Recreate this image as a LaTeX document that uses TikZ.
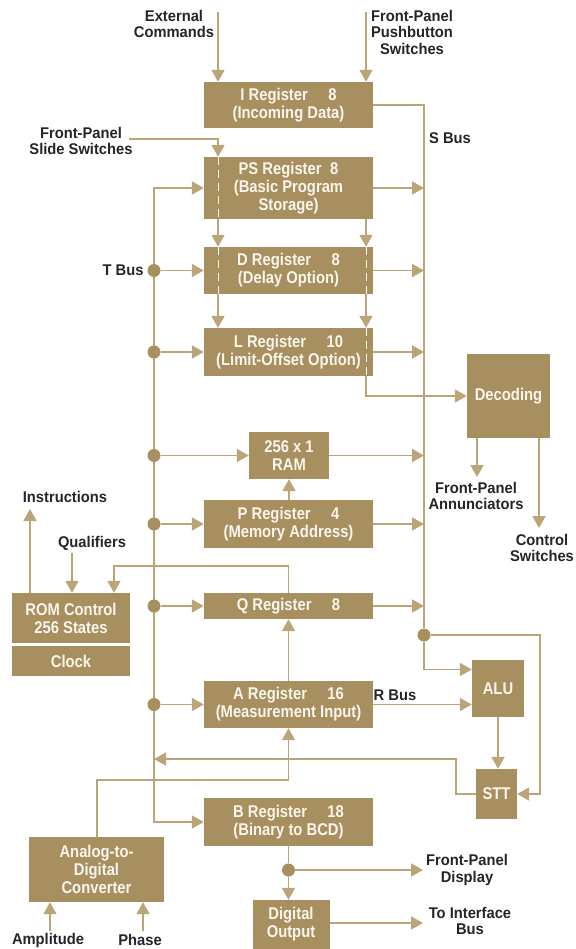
\documentclass[tikz,border=0pt]{standalone}
\usepackage{fontspec}
\setmainfont{Liberation Sans}
\newfontfamily\boxfam{Liberation Sans}[FakeStretch=0.87]
\newfontfamily\lblfam{Liberation Sans}[FakeStretch=0.95]
\usetikzlibrary{arrows.meta}
\definecolor{boxtan}{RGB}{168,143,96}
\definecolor{linetan}{RGB}{186,164,120}
\definecolor{boxtext}{RGB}{250,246,236}
\definecolor{lbltext}{RGB}{36,36,42}
\newcommand{\boxfont}{\boxfam\fontsize{17}{18}\selectfont\bfseries}
\newcommand{\lblfont}{\lblfam\fontsize{15.5}{16.5}\selectfont\bfseries}
\newcommand{\regsep}{\hspace{1.2em}}

\begin{document}
\begin{tikzpicture}[x=1pt,y=-1pt,
    >={Triangle[width=13pt,length=12pt]},
    reg/.style={fill=boxtan,text=boxtext,inner sep=0pt,align=center,font=\boxfont},
    col/.style={reg,minimum width=169pt},
    lbl/.style={text=lbltext,inner sep=0pt,align=center,font=\lblfont},
    wire/.style={draw=linetan,line width=1.8pt},
    feed/.style={wire,->},
    dot/.style={circle,fill=boxtan,inner sep=0pt,minimum size=13pt},
    inner/.style={draw=boxtext,line width=1pt,dash pattern=on 8pt off 5pt}]
	\useasboundingbox (0,0) rectangle (575,949);
	% registers of the main column
	\node[col,minimum height=46pt] (ireg) at (288.5,105) {I Register\regsep 8\\(Incoming Data)};
	\node[col,minimum height=62pt] (psreg) at (288.5,188) {PS Register\hspace{0.5em}8\\(Basic Program\\Storage)};
	\node[col,minimum height=47pt] (dreg) at (288.5,270.5) {D Register\regsep 8\\(Delay Option)};
	\node[col,minimum height=48pt] (lreg) at (288.5,352) {L Register\regsep 10\\(Limit-Offset Option)};
	\node[col,minimum height=48pt] (preg) at (288.5,524) {P Register\regsep 4\\(Memory Address)};
	\node[col,minimum height=26pt] (qreg) at (288.5,606) {Q Register\regsep 8};
	\node[col,minimum height=47pt] (areg) at (288.5,704.5) {A Register\regsep 16\\(Measurement Input)};
	\node[col,minimum height=48pt] (breg) at (288.5,822) {B Register\regsep 18\\(Binary to BCD)};
	\node[reg,minimum width=80pt,minimum height=47pt] (ram) at (289,455.5) {256 x 1\\RAM};
	\node[reg,minimum width=83pt,minimum height=84pt] (dec) at (508.5,396) {Decoding};
	\node[reg,minimum width=118pt,minimum height=50pt] (rom) at (71,618) {ROM Control\\256 States};
	\node[reg,minimum width=118pt,minimum height=30pt] (clk) at (71,661) {Clock};
	\node[reg,minimum width=52pt,minimum height=57pt] (alu) at (498,688.5) {ALU};
	\node[reg,minimum width=41pt,minimum height=50pt] (stt) at (496.5,794) {STT};
	\node[reg,minimum width=135pt,minimum height=65pt] (adc) at (96.5,869.5) {Analog-to-\\Digital\\Converter};
	\node[reg,minimum width=77pt,minimum height=49pt] (dig) at (291,924.5) {Digital\\Output};

	% texts outside the boxes
	\node[lbl] (l-ext) at (174,24) {External\\Commands};
	\node[lbl] (l-push) at (412,32) {Front-Panel\\Pushbutton\\Switches};
	\node[lbl] (l-slide) at (81,141) {Front-Panel\\Slide Switches};
	\node[lbl] (l-sbus) at (450,138) {S Bus};
	\node[lbl] (l-tbus) at (123,270) {T Bus};
	\node[lbl] (l-instr) at (65,497) {Instructions};
	\node[lbl] (l-qual) at (92,543) {Qualifiers};
	\node[lbl] (l-ann) at (476,496) {Front-Panel\\Annunciators};
	\node[lbl] (l-ctl) at (542,548) {Control\\Switches};
	\node[lbl] (l-rbus) at (395,695) {R Bus};
	\node[lbl] (l-disp) at (467,870) {Front-Panel\\Display};
	\node[lbl] (l-ifbus) at (470,921) {To Interface\\Bus};
	\node[lbl] (l-amp) at (48,940) {Amplitude};
	\node[lbl] (l-phase) at (140,940) {Phase};

	% free ends and bends
	\coordinate (c-ext) at (218,12);
	\coordinate (c-push) at (366,12);
	\coordinate (c-slide) at (129,139);
	\coordinate (tbus) at (154,188);
	\coordinate (sright) at (540,635);
	\coordinate (qfb) at (114,566);
	\coordinate (c-qual) at (72,553);
	\coordinate (c-instr) at (30,509);
	\coordinate (sttfb) at (456,759);
	\coordinate (adcfb) at (97,780);
	\coordinate (c-amp) at (50,931);
	\coordinate (c-phase) at (143,931);
	\coordinate (c-disp) at (423,870);
	\coordinate (c-bus) at (423,923);
	\coordinate (c-ann) at (477,477);
	\coordinate (c-ctl) at (539,528);

	% inputs and the dashed paths through PS, D and L
	\draw[feed] (c-ext) -- (c-ext |- ireg.north);
	\draw[feed] (c-push) -- (c-push |- ireg.north);
	\draw[feed] (c-slide) -| (c-ext |- psreg.north);
	\foreach \name in {psreg,dreg}
	{\draw[inner] (c-ext |- \name.north) -- (c-ext |- \name.south);}
	\foreach \name in {dreg,lreg}
	{\draw[inner] (c-push |- \name.north) -- (c-push |- \name.south);}
	\draw[feed] (c-ext |- psreg.south) -- (c-ext |- dreg.north);
	\draw[feed] (c-push |- psreg.south) -- (c-push |- dreg.north);
	\draw[feed] (c-ext |- dreg.south) -- (c-ext |- lreg.north);
	\draw[feed] (c-push |- dreg.south) -- (c-push |- lreg.north);
	\draw[feed] (c-push |- lreg.south) |- (dec.west);

	% S bus
	\node[dot] (sdot) at (424,635) {};
	\draw[wire] (ireg.east) -| (sdot);
	\foreach \name in {psreg,dreg,lreg,ram,preg,qreg}
	{\draw[feed] (\name.east) -- (\name.east -| sdot);}
	\draw[feed] (sdot) |- ([yshift=19pt]alu.west);
	\draw[feed] (sdot) -- (sright) |- (stt.east);

	% T bus
	\draw[wire,<->] (psreg.west) -| (tbus |- breg.west) -- (breg.west);
	\foreach \name in {dreg,lreg,ram,preg,qreg,areg}{
		\node[dot] (t-\name) at (tbus |- \name.west) {};
		\draw[feed] (t-\name) -- (\name.west);
	}

	% inner links
	\draw[feed] (preg.north -| ram.south) -- (ram.south);
	\draw[feed] (areg.north) -- (qreg.south);
	\draw[feed] (qreg.north) |- (qfb) -- (qfb |- rom.north);
	\draw[feed] (c-qual) -- (c-qual |- rom.north);
	\draw[feed] (c-instr |- rom.north) -- (c-instr);
	\draw[feed] (areg.east) -- (areg.east -| alu.west);
	\draw[feed] (alu.south) -- (alu.south |- stt.north);
	\draw[feed] (stt.west) -| (sttfb) -- (tbus |- sttfb);
	\draw[feed] (adcfb |- adc.north) -- (adcfb) -| (areg.south);
	\draw[feed] (c-amp) -- (c-amp |- adc.south);
	\draw[feed] (c-phase) -- (c-phase |- adc.south);

	% outputs
	\node[dot] (bdot) at (breg.south |- c-disp) {};
	\draw[wire] (breg.south) -- (bdot);
	\draw[feed] (bdot) -- (bdot |- dig.north);
	\draw[feed] (bdot) -- (c-disp);
	\draw[feed] (dig.east |- c-bus) -- (c-bus);
	\draw[feed] (dec.south -| c-ann) -- (c-ann);
	\draw[feed] (dec.south -| c-ctl) -- (c-ctl);
\end{tikzpicture}
\end{document}
